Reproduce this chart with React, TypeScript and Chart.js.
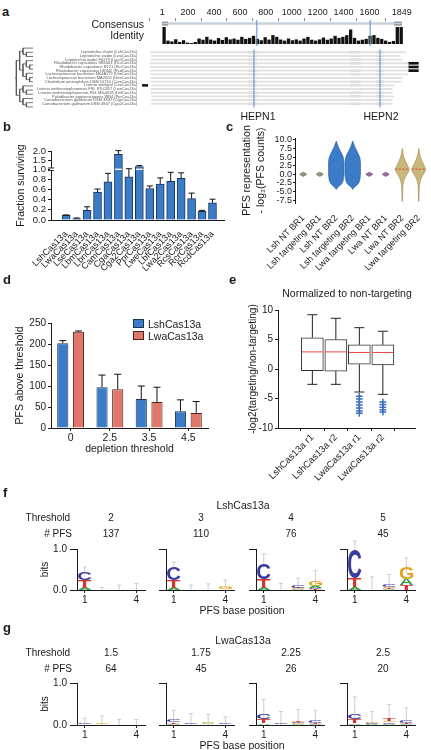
import React, { useEffect, useRef } from 'react';
import { Chart, registerables } from 'chart.js';

Chart.register(...registerables);

const FONT = '"Liberation Sans", Arial, Helvetica, sans-serif';
Chart.defaults.font.family = FONT;
Chart.defaults.font.size = 9.5;
Chart.defaults.color = '#1a1a1a';

const INK = '#1a1a1a';
const BLUE = '#3b7cc8';
const BLUE_EDGE = '#1e3553';
const SALMON = '#e0776a';
const SALMON_EDGE = '#4d231d';

/* ===================== DATA ===================== */
// panel a
const positionTicks = [1, 200, 400, 600, 800, 1000, 1200, 1400, 1600, 1849];
const identityBinSize = 30;
const identity = [
  1.0, 0.2, 0.15, 0.28, 0.12, 0.22, 0.08, 0.06, 0.12, 0.32,
  0.25, 0.42, 0.26, 0.2, 0.35, 0.24, 0.4, 0.27, 0.32, 0.25,
  0.42, 0.3, 0.36, 0.48, 0.3, 0.22, 0.4, 0.26, 0.52, 0.42,
  0.26, 0.2, 0.32, 0.22, 0.27, 0.2, 0.32, 0.42, 0.25, 0.2,
  0.27, 0.38, 0.25, 0.32, 0.48, 0.36, 0.42, 0.52, 0.85, 0.36,
  0.2, 0.25, 0.3, 0.48, 0.52, 0.36, 0.3, 0.2, 0.12, 0.18,
  1.0, 1.0,
];
const consensusLength = 1849;
const consensusEndsLeft = [1, 45];
const consensusEndsRight = [1790, 1849];
const hepnNames = ['HEPN1', 'HEPN2'];
const hepnPositions = [730, 1606];
const speciesNames = [
  'Leptotrichia shahii (LshCas13a)',
  'Leptotrichia wadei (LwaCas13a)',
  'Leptotrichia wadei F0279 (Lwa2Cas13a)',
  'Rhodobacter capsulatus SB1003 (RcsCas13a)',
  'Rhodobacter capsulatus R121 (RcrCas13a)',
  'Rhodobacter capsulatus DE442 (RcdCas13a)',
  'Lachnospiraceae bacterium NK4A179 (LbnCas13a)',
  'Lachnospiraceae bacterium MA2020 (LbmCas13a)',
  'Clostridium aminophilum DSM 10710 (CamCas13a)',
  'Listeria seeligeri (LseCas13a)',
  'Listeria weihenstephanensis FSL R9-0317 (LweCas13a)',
  'Listeria weihenstephanensis FSL M6-0635 (LbfCas13a)',
  'Paludibacter propionicigenes WB4 (PprCas13a)',
  'Carnobacterium gallinarum DSM 4847 (CgaCas13a)',
  'Carnobacterium gallinarum DSM 4847 (Cga2Cas13a)',
];
const alignStart = [12, 15, 15, 10, 10, 10, 12, 15, 15, 20, 15, 15, 20, 15, 15];
const alignEnd = [1785, 1745, 1760, 1800, 1800, 1800, 1800, 1760, 1755, 1700, 1690, 1690, 1700, 1690, 1690];
const conservedBlocks = [[690, 750], [1400, 1470], [1580, 1630]];
const cTermExtRows = [3, 4, 5];
const cTermExt = [1805, 1872];
const nTermExtRows = [9];
const nTermExt = [-45, -8];
type TreeNode = number | TreeNode[];
const treeTopology: TreeNode = [[[0, [1, 2]], [[3, [4, 5]], [6, [7, 8]]]], [[9, [10, 11]], [12, [13, 14]]]];

// panel b
const survivalLabels = ['LshCas13a', 'LwaCas13a', 'LseCas13a', 'LbmCas13a', 'LbnCas13a', 'CamCas13a', 'CgaCas13a', 'Cga2Cas13a', 'PprCas13a', 'LweCas13a', 'LbfCas13a', 'Lwa2Cas13a', 'RcsCas13a', 'RcrCas13a', 'RcdCas13a'];
const survivalMean = [0.09, 0.03, 0.19, 0.55, 0.75, 1.82, 0.85, 1.15, 0.62, 0.71, 0.76, 0.82, 0.42, 0.17, 0.34];
const survivalErr = [0.01, 0.01, 0.07, 0.06, 0.17, 0.2, 0.18, 0.05, 0.05, 0.12, 0.18, 0.11, 0.11, 0.02, 0.07];
const survivalTicks = [0, 0.2, 0.4, 0.6, 0.8, 1.0, 1.5, 2.0];
const axisBreak = 1.0;
const aboveBreakScale = 0.36;

// panel c
const pfsLabels = ['Lsh NT BR1', 'Lsh targeting BR1', 'Lsh NT BR2', 'Lsh targeting BR2', 'Lwa targeting BR1', 'Lwa NT BR1', 'Lwa NT BR2', 'Lwa targeting BR2'];
const pfsTicks = [-7.5, -5, -2.5, 0, 2.5, 5, 7.5, 10];
const violinColors = ['#8e9a82', '#8e9a82', '#3b7cc8', '#3b7cc8', '#9b6fa5', '#9b6fa5', '#c9b77c', '#c9b77c'];
const violinEdges = ['#5d6a52', '#5d6a52', '#2a5a94', '#2a5a94', '#6e4a78', '#6e4a78', '#9c8a52', '#9c8a52'];
const violinProfile = [0, 0, 1, 1, 0, 0, 2, 2];
const narrowLevels = [-0.6, -0.3, 0, 0.3, 0.6];
const narrowWidths = [0, 0.13, 0.21, 0.13, 0];
const lshBR2Levels = [-4.4, -4, -3.5, -3, -2.5, -2, -1, 0, 1, 2, 3, 4, 5, 6, 7, 8, 9, 9.6];
const lshBR2Widths = [0, 0.05, 0.15, 0.28, 0.36, 0.41, 0.45, 0.47, 0.47, 0.47, 0.47, 0.46, 0.42, 0.33, 0.22, 0.12, 0.05, 0];
const lwaBR2Levels = [-7.8, -6, -4, -3, -2, -1, 0, 0.5, 1, 1.5, 2, 3, 4, 5, 6, 7, 7.5];
const lwaBR2Widths = [0.015, 0.02, 0.03, 0.05, 0.09, 0.17, 0.28, 0.35, 0.4, 0.42, 0.38, 0.28, 0.18, 0.1, 0.05, 0.02, 0];
const violinMedians = [null, null, null, null, null, null, 1.5, 1.5];

// panel d
const depletionThresholds = ['0', '2.5', '3.5', '4.5'];
const lshPfs = [202, 97, 69, 40];
const lshPfsErr = [6, 29, 31, 27];
const lwaPfs = [229, 92, 62, 36];
const lwaPfsErr = [2, 36, 35, 27];
const pfsCountTicks = [0, 50, 100, 150, 200, 250];

// panel e
const boxLabels = ['LshCas13a r1', 'LshCas13a r2', 'LwaCas13a r1', 'LwaCas13a r2'];
const boxMin = [-2.6, -2.6, -3.9, -4.3];
const boxQ1 = [-0.3, -0.35, 0.8, 0.7];
const boxMedian = [2.9, 2.9, 2.8, 2.8];
const boxQ3 = [5.3, 5.0, 4.1, 4.1];
const boxMax = [9.2, 8.6, 7.0, 6.4];
const lwaR1Outliers = [-4.6, -5.1, -5.6, -6.1, -6.6, -7.1, -7.5];
const lwaR2Outliers = [-5.6, -6.0, -6.5, -6.9, -7.3];
const boxOutliers = [[], [], lwaR1Outliers, lwaR2Outliers];
const ratioTicks = [-10, -5, 0, 5, 10];

// panels f, g (sequence logos: information per base, bits)
const logoTickPositions = [1, 4];
const lshThresholds = ['2', '3', '4', '5'];
const lshPfsCounts = ['137', '110', '76', '45'];
const lshA = [[0.05, 0.005, 0.005, 0.005], [0.05, 0.005, 0.01, 0.01], [0.05, 0.01, 0.02, 0.05], [0.07, 0.01, 0.02, 0.15]];
const lshC = [[0.2, 0.005, 0.005, 0.005], [0.32, 0.005, 0.01, 0.01], [0.39, 0.01, 0.05, 0.03], [0.7, 0.01, 0.06, 0.01]];
const lshG = [[0, 0.005, 0.005, 0.005], [0, 0.005, 0.01, 0.05], [0, 0.01, 0.02, 0.12], [0, 0.01, 0.03, 0.28]];
const lshT = [[0.19, 0.005, 0.005, 0.005], [0.18, 0.005, 0.01, 0.01], [0.22, 0.01, 0.02, 0.02], [0.21, 0.01, 0.02, 0.11]];
const lshErr = [[0.12, 0.04, 0.1, 0.14], [0.13, 0.1, 0.11, 0.16], [0.22, 0.12, 0.18, 0.25], [0.22, 0.28, 0.25, 0.23]];
const lwaThresholds = ['1.5', '1.75', '2.25', '2.5'];
const lwaPfsCounts = ['64', '45', '26', '20'];
const lwaA = [[0.01, 0.01, 0.01, 0.01], [0.02, 0.01, 0.02, 0.01], [0.04, 0.01, 0.02, 0.02], [0.04, 0.02, 0.03, 0.02]];
const lwaC = [[0.02, 0.01, 0.005, 0.005], [0.06, 0.02, 0.01, 0.02], [0.12, 0.02, 0.03, 0.05], [0.12, 0.02, 0.03, 0.06]];
const lwaG = [[0.005, 0.03, 0.005, 0.005], [0.01, 0.01, 0.03, 0.01], [0.01, 0.01, 0.02, 0.01], [0.01, 0.02, 0.03, 0.01]];
const lwaT = [[0.01, 0.005, 0.01, 0.01], [0.04, 0.01, 0.01, 0.01], [0.08, 0.01, 0.04, 0.02], [0.08, 0.01, 0.06, 0.02]];
const lwaErr = [[0.12, 0.16, 0.1, 0.1], [0.22, 0.22, 0.18, 0.14], [0.36, 0.27, 0.26, 0.25], [0.42, 0.25, 0.34, 0.3]];
const letterColors: Record<string, string> = { A: '#2f9e49', C: '#3b3c9f', G: '#e4a31b', T: '#d7352b' };

/* ===================== HELPERS ===================== */
const fixW = (w: number) => (s: any) => { s.width = w; };
const fixH = (h: number) => (s: any) => { s.height = h; };
const setTicks = (vals: number[]) => (s: any) => { s.ticks = vals.map((v) => ({ value: v })); };
const brk = (v: number) => (v <= axisBreak ? v : axisBreak + (v - axisBreak) * aboveBreakScale);
const unbrk = (t: number) => (t <= axisBreak ? t : axisBreak + (t - axisBreak) / aboveBreakScale);

const baseOpts = (extra: any) => ({
  responsive: false,
  animation: false,
  devicePixelRatio: 1,
  events: [],
  ...extra,
  plugins: { legend: { display: false }, tooltip: { enabled: false }, ...(extra.plugins || {}) },
});

function seg(ctx: CanvasRenderingContext2D, x0: number, y0: number, x1: number, y1: number) {
  ctx.beginPath();
  ctx.moveTo(x0, y0);
  ctx.lineTo(x1, y1);
  ctx.stroke();
}

function ChartCanvas(props: { left: number; top: number; width: number; height: number; config: () => any }) {
  const { left, top, width, height, config } = props;
  const ref = useRef<HTMLCanvasElement | null>(null);
  useEffect(() => {
    const el = ref.current;
    if (!el) return;
    const chart = new Chart(el, config());
    return () => chart.destroy();
  }, []);
  return <canvas ref={ref} width={width} height={height} style={{ position: 'absolute', left, top, width, height, display: 'block' }} />;
}

function Txt(props: { x: number; y: number; size?: number; align?: 'left' | 'center' | 'right'; bold?: boolean; children: any }) {
  const { x, y, size = 10, align = 'center', bold = false, children } = props;
  const tx = align === 'center' ? '-50%' : align === 'right' ? '-100%' : '0';
  return (
    <div style={{ position: 'absolute', left: x, top: y, transform: `translate(${tx},-50%)`, fontSize: size, fontWeight: bold ? 700 : 400, fontFamily: FONT, color: INK, whiteSpace: 'nowrap', lineHeight: 1 }}>
      {children}
    </div>
  );
}

/* ===================== PANEL A ===================== */
const hepnLinesPlugin = (extendBottom: number) => ({
  id: 'hepn',
  afterDatasetsDraw(chart: any) {
    const { ctx, chartArea, scales } = chart;
    ctx.save();
    ctx.strokeStyle = 'rgba(110,150,205,0.75)';
    ctx.lineWidth = 1.6;
    hepnPositions.forEach((p) => {
      const x = scales.x.getPixelForValue(p);
      seg(ctx, x, chartArea.top - 1, x, chartArea.bottom + extendBottom);
    });
    ctx.restore();
  },
});

const consensusConfig = () => ({
  type: 'bar',
  data: {
    datasets: [
      { type: 'line', data: [{ x: 1, y: 1.2 }, { x: consensusLength, y: 1.2 }], borderColor: '#c9d2dc', borderWidth: 2.5, pointRadius: 0 },
      { type: 'line', data: consensusEndsLeft.map((p) => ({ x: p, y: 1.2 })), borderColor: '#111', borderWidth: 3.5, pointRadius: 0 },
      { type: 'line', data: consensusEndsRight.map((p) => ({ x: p, y: 1.2 })), borderColor: '#111', borderWidth: 3.5, pointRadius: 0 },
      { type: 'bar', data: identity.map((v, i) => ({ x: i * identityBinSize + identityBinSize / 2, y: v })), backgroundColor: '#111', barPercentage: 0.85, categoryPercentage: 1 },
    ],
  },
  options: baseOpts({
    layout: { padding: { top: 0, right: 16, left: 0, bottom: 2 } },
    scales: {
      x: {
        type: 'linear', position: 'top', min: 1, max: consensusLength,
        afterBuildTicks: setTicks(positionTicks), afterFit: fixH(21),
        ticks: { callback: (v: number) => String(v), font: { size: 9 }, padding: 0, maxRotation: 0, autoSkip: false },
        grid: { drawOnChartArea: false, tickLength: 3, color: '#888' },
        border: { display: false },
      },
      y: {
        min: 0, max: 1.35, afterFit: fixW(149),
        ticks: { display: false }, grid: { display: false }, border: { display: false },
      },
    },
  }),
  plugins: [hepnLinesPlugin(3)],
});

const alignmentConfig = () => {
  const rowOrNull = (rows: number[], range: number[]) => speciesNames.map((_, i) => (rows.includes(i) ? range : null));
  return {
    type: 'bar',
    data: {
      labels: speciesNames,
      datasets: [
        { data: alignStart.map((s, i) => [s, alignEnd[i]]), backgroundColor: '#e1e1e1', barThickness: 1.2 },
        ...conservedBlocks.map((b) => ({ data: speciesNames.map((_, i) => [Math.max(b[0], alignStart[i]), Math.min(b[1], alignEnd[i])]), backgroundColor: '#b9b9b9', barThickness: 1.2 })),
        { data: rowOrNull(cTermExtRows, cTermExt), backgroundColor: '#111', barThickness: 2, clip: false },
        { data: rowOrNull(nTermExtRows, nTermExt), backgroundColor: '#111', barThickness: 1.8, clip: false },
      ],
    },
    options: baseOpts({
      indexAxis: 'y',
      datasets: { bar: { grouped: false } },
      layout: { padding: { top: 2, right: 16, left: 0, bottom: 3 } },
      scales: {
        x: { type: 'linear', min: 1, max: consensusLength, display: false },
        y: {
          afterFit: fixW(149),
          ticks: { font: { size: 4 }, color: '#555', padding: 4, autoSkip: false },
          grid: { display: false }, border: { display: false },
        },
      },
    }),
    plugins: [hepnLinesPlugin(2)],
  };
};

const treeConfig = () => {
  const segs: { x: number; y: number }[][] = [];
  let leafDepth = 0;
  const depthOf = (n: TreeNode, d: number): void => {
    if (typeof n === 'number') leafDepth = Math.max(leafDepth, d);
    else n.forEach((c) => depthOf(c, d + 1));
  };
  depthOf(treeTopology, 0);
  const walk = (n: TreeNode, d: number): { x: number; y: number } => {
    if (typeof n === 'number') return { x: leafDepth, y: n };
    const kids = n.map((c) => walk(c, d + 1));
    const ys = kids.map((k) => k.y);
    const lo = Math.min(...ys);
    const hi = Math.max(...ys);
    segs.push([{ x: d, y: lo }, { x: d, y: hi }]);
    kids.forEach((k) => segs.push([{ x: d, y: k.y }, { x: k.x, y: k.y }]));
    return { x: d, y: (lo + hi) / 2 };
  };
  const root = walk(treeTopology, 0);
  segs.push([{ x: -0.4, y: root.y }, { x: 0, y: root.y }]);
  return {
    type: 'line',
    data: { datasets: segs.map((s) => ({ data: s, borderColor: '#555', borderWidth: 0.8, pointRadius: 0 })) },
    options: baseOpts({
      layout: { padding: { top: 2, right: 5, left: 5, bottom: 3 } },
      scales: {
        x: { type: 'linear', min: -0.4, max: leafDepth, display: false },
        y: { type: 'linear', min: -0.5, max: speciesNames.length - 0.5, reverse: true, display: false },
      },
    }),
  };
};

/* ===================== PANEL B ===================== */
const survivalPlugin = {
  id: 'survivalExtras',
  afterDatasetsDraw(chart: any) {
    const { ctx, scales: { x, y } } = chart;
    ctx.save();
    ctx.strokeStyle = '#111';
    ctx.lineWidth = 1;
    survivalMean.forEach((m, i) => {
      const px = x.getPixelForValue(i);
      const y0 = y.getPixelForValue(brk(m));
      const y1 = y.getPixelForValue(brk(m + survivalErr[i]));
      seg(ctx, px, y0, px, y1);
      seg(ctx, px - 3, y1, px + 3, y1);
    });
    const yb = y.getPixelForValue(axisBreak);
    ctx.strokeStyle = '#fff';
    ctx.lineWidth = 1.3;
    survivalMean.forEach((m, i) => {
      if (m > axisBreak) {
        const px = x.getPixelForValue(i);
        seg(ctx, px - 3.5, yb, px + 3.5, yb);
      }
    });
    const ax = x.left;
    ctx.fillStyle = '#fff';
    ctx.fillRect(ax - 1, yb - 1, 2, 2);
    ctx.strokeStyle = '#111';
    ctx.lineWidth = 0.9;
    seg(ctx, ax - 3, yb - 1.3, ax + 3, yb - 1.3);
    seg(ctx, ax - 3, yb + 1.3, ax + 3, yb + 1.3);
    ctx.restore();
  },
};

const survivalConfig = () => ({
  type: 'bar',
  data: {
    datasets: [{
      data: survivalMean.map((v, i) => ({ x: i, y: brk(v) })),
      backgroundColor: BLUE, borderColor: BLUE_EDGE, borderWidth: 1, barThickness: 8,
    }],
  },
  options: baseOpts({
    layout: { padding: { top: 29, right: 2, left: 0, bottom: 0 } },
    scales: {
      x: {
        type: 'linear', min: -0.9, max: 14.55,
        afterBuildTicks: setTicks(survivalLabels.map((_, i) => i)), afterFit: fixH(57),
        ticks: { callback: (v: number) => survivalLabels[v] ?? '', minRotation: 45, maxRotation: 45, autoSkip: false, font: { size: 9 }, padding: 1 },
        grid: { display: false }, border: { color: INK },
      },
      y: {
        min: 0, max: brk(2.0),
        afterBuildTicks: setTicks(survivalTicks.map(brk)), afterFit: fixW(51),
        ticks: { callback: (v: number) => unbrk(v).toFixed(1), font: { size: 9.5, lineHeight: 0.9 }, padding: 2, autoSkip: false },
        grid: { drawOnChartArea: false, tickLength: 3, color: INK }, border: { color: INK },
        title: { display: true, text: 'Fraction surviving', font: { size: 10.5 }, padding: { top: 15, bottom: 0 } },
      },
    },
  }),
  plugins: [survivalPlugin],
});

/* ===================== PANEL C ===================== */
const violinPlugin = {
  id: 'violins',
  afterDatasetsDraw(chart: any) {
    const { ctx, scales: { x, y } } = chart;
    const cat = x.getPixelForValue(1) - x.getPixelForValue(0);
    const profiles = [
      [narrowLevels, narrowWidths],
      [lshBR2Levels, lshBR2Widths],
      [lwaBR2Levels, lwaBR2Widths],
    ];
    ctx.save();
    pfsLabels.forEach((_, i) => {
      const [lv, wd] = profiles[violinProfile[i]];
      const cx = x.getPixelForValue(i);
      ctx.beginPath();
      lv.forEach((l, k) => {
        const px = cx + wd[k] * cat;
        const py = y.getPixelForValue(l);
        if (k === 0) ctx.moveTo(px, py); else ctx.lineTo(px, py);
      });
      for (let k = lv.length - 1; k >= 0; k--) ctx.lineTo(cx - wd[k] * cat, y.getPixelForValue(lv[k]));
      ctx.closePath();
      ctx.fillStyle = violinColors[i];
      ctx.fill();
      ctx.strokeStyle = violinEdges[i];
      ctx.lineWidth = 0.6;
      ctx.stroke();
      const med = violinMedians[i];
      if (med !== null) {
        const my = y.getPixelForValue(med);
        ctx.strokeStyle = '#e0463a';
        ctx.lineWidth = 1;
        ctx.setLineDash([2, 1.5]);
        seg(ctx, cx - 0.42 * cat, my, cx + 0.42 * cat, my);
        ctx.setLineDash([]);
      }
    });
    ctx.restore();
  },
};

const violinConfig = () => ({
  type: 'line',
  data: { labels: pfsLabels, datasets: [] },
  options: baseOpts({
    layout: { padding: { top: 16, right: 4, left: 0, bottom: 0 } },
    scales: {
      x: {
        type: 'category', offset: true, afterFit: fixH(69),
        ticks: { minRotation: 45, maxRotation: 45, autoSkip: false, font: { size: 9 }, padding: 2 },
        grid: { display: false }, border: { display: false },
      },
      y: {
        min: -8.3, max: 10.5,
        afterBuildTicks: setTicks(pfsTicks), afterFit: fixW(80),
        ticks: { callback: (v: number) => v.toFixed(1), font: { size: 9, lineHeight: 0.85 }, padding: 1, autoSkip: false },
        grid: { drawOnChartArea: false, tickLength: 2, color: INK }, border: { color: INK },
        title: { display: true, text: ['PFS representation', '- log\u2082(PFS counts)'], font: { size: 10.5, lineHeight: 1.35 }, padding: { top: 25, bottom: 0 } },
      },
    },
  }),
  plugins: [violinPlugin],
});

/* ===================== PANEL D ===================== */
const groupedErrPlugin = {
  id: 'groupedErr',
  afterDatasetsDraw(chart: any) {
    const { ctx, scales: { y } } = chart;
    const errs = [lshPfsErr, lwaPfsErr];
    const vals = [lshPfs, lwaPfs];
    ctx.save();
    ctx.strokeStyle = '#111';
    ctx.lineWidth = 1;
    [0, 1].forEach((d) => {
      const meta = chart.getDatasetMeta(d);
      meta.data.forEach((el: any, i: number) => {
        const y0 = y.getPixelForValue(vals[d][i]);
        const y1 = y.getPixelForValue(vals[d][i] + errs[d][i]);
        seg(ctx, el.x, y0, el.x, y1);
        seg(ctx, el.x - 3.5, y1, el.x + 3.5, y1);
      });
    });
    ctx.restore();
  },
};

const depletionConfig = () => ({
  type: 'bar',
  data: {
    labels: depletionThresholds,
    datasets: [
      { label: 'LshCas13a', data: lshPfs, backgroundColor: BLUE, borderColor: BLUE_EDGE, borderWidth: 1 },
      { label: 'LwaCas13a', data: lwaPfs, backgroundColor: SALMON, borderColor: SALMON_EDGE, borderWidth: 1 },
    ],
  },
  options: baseOpts({
    datasets: { bar: { categoryPercentage: 0.8, barPercentage: 0.71 } },
    layout: { padding: { top: 38, right: 7, left: 0, bottom: 0 } },
    scales: {
      x: {
        afterFit: fixH(32),
        ticks: { font: { size: 10.5 }, padding: 1 },
        grid: { drawOnChartArea: false, tickLength: 3, color: INK, offset: false }, border: { color: INK },
        title: { display: true, text: 'depletion threshold', font: { size: 10.5 }, padding: { top: 0, bottom: 5 } },
      },
      y: {
        min: 0, max: 250,
        afterBuildTicks: setTicks(pfsCountTicks), afterFit: fixW(51),
        ticks: { font: { size: 10 }, padding: 2, autoSkip: false },
        grid: { drawOnChartArea: false, tickLength: 3, color: INK }, border: { color: INK },
        title: { display: true, text: 'PFS above threshold', font: { size: 10.5 }, padding: { top: 14, bottom: 0 } },
      },
    },
  }),
  plugins: [groupedErrPlugin],
});

/* ===================== PANEL E ===================== */
const boxPlugin = {
  id: 'boxes',
  afterDatasetsDraw(chart: any) {
    const { ctx, scales: { x, y } } = chart;
    ctx.save();
    boxLabels.forEach((_, i) => {
      const cx = x.getPixelForValue(i);
      ctx.strokeStyle = '#222';
      ctx.lineWidth = 1;
      seg(ctx, cx, y.getPixelForValue(boxQ3[i]), cx, y.getPixelForValue(boxMax[i]));
      seg(ctx, cx, y.getPixelForValue(boxQ1[i]), cx, y.getPixelForValue(boxMin[i]));
      seg(ctx, cx - 5, y.getPixelForValue(boxMax[i]), cx + 5, y.getPixelForValue(boxMax[i]));
      seg(ctx, cx - 5, y.getPixelForValue(boxMin[i]), cx + 5, y.getPixelForValue(boxMin[i]));
      ctx.strokeStyle = '#ee4b45';
      const my = y.getPixelForValue(boxMedian[i]);
      seg(ctx, cx - 10.5, my, cx + 10.5, my);
    });
    ctx.restore();
  },
};

const boxConfig = () => ({
  type: 'bar',
  data: {
    datasets: [
      {
        data: boxQ1.map((q, i) => ({ x: i, y: [q, boxQ3[i]] })),
        backgroundColor: '#fff', borderColor: '#333', borderWidth: 1, borderSkipped: false, barThickness: 22,
      },
      {
        type: 'scatter',
        data: boxOutliers.flatMap((arr, i) => arr.map((v) => ({ x: i, y: v }))),
        pointStyle: 'cross', pointRadius: 3.4, borderColor: '#3d6fc2', borderWidth: 1.5, backgroundColor: '#3d6fc2',
      },
    ],
  },
  options: baseOpts({
    layout: { padding: { top: 28, right: 16, left: 0, bottom: 0 } },
    scales: {
      x: {
        type: 'linear', min: -0.734, max: 3.64,
        afterBuildTicks: setTicks(boxLabels.map((_, i) => i)), afterFit: fixH(64),
        ticks: { callback: (v: number) => boxLabels[v] ?? '', minRotation: 45, maxRotation: 45, autoSkip: false, font: { size: 9.5 }, padding: 1 },
        grid: { drawOnChartArea: false, tickLength: 3, color: INK }, border: { color: INK },
      },
      y: {
        min: -10, max: 10,
        afterBuildTicks: setTicks(ratioTicks), afterFit: fixW(63),
        ticks: { font: { size: 10 }, padding: 2, autoSkip: false },
        grid: { drawOnChartArea: false, tickLength: 3, color: INK }, border: { color: INK },
        title: { display: true, text: '-log2(targeting/non-targeting)', font: { size: 10 }, padding: { top: 32, bottom: 0 } },
      },
    },
  }),
  plugins: [boxPlugin],
});

/* ===================== PANELS F, G ===================== */
function drawGlyph(ctx: CanvasRenderingContext2D, ch: string, x: number, yTop: number, w: number, h: number, color: string) {
  ctx.save();
  ctx.font = `bold 100px ${FONT}`;
  ctx.textAlign = 'left';
  ctx.textBaseline = 'alphabetic';
  const m = ctx.measureText(ch);
  const gw = m.actualBoundingBoxLeft + m.actualBoundingBoxRight;
  const gh = m.actualBoundingBoxAscent + m.actualBoundingBoxDescent;
  ctx.translate(x, yTop);
  ctx.scale(w / gw, h / gh);
  ctx.fillStyle = color;
  ctx.fillText(ch, m.actualBoundingBoxLeft, m.actualBoundingBoxAscent);
  ctx.restore();
}

const logoPlugin = (A: number[], C: number[], G: number[], T: number[], err: number[]) => {
  const stackTop = (p: number) => A[p] + C[p] + G[p] + T[p];
  return {
    id: 'logo',
    beforeDatasetsDraw(chart: any) {
      const { ctx, scales: { x, y } } = chart;
      ctx.save();
      ctx.strokeStyle = '#c2c2c2';
      ctx.lineWidth = 0.8;
      for (let p = 0; p < 4; p++) {
        const cx = x.getPixelForValue(p + 1);
        const top = stackTop(p);
        const yHi = y.getPixelForValue(top + err[p]);
        const yLo = y.getPixelForValue(Math.max(0, top - err[p] * 0.6));
        seg(ctx, cx, yLo, cx, yHi);
        seg(ctx, cx - 2, yHi, cx + 2, yHi);
      }
      ctx.restore();
    },
    afterDatasetsDraw(chart: any) {
      const { ctx, scales: { x, y } } = chart;
      for (let p = 0; p < 4; p++) {
        const entries: [string, number][] = [['A', A[p]], ['C', C[p]], ['G', G[p]], ['T', T[p]]];
        entries.sort((a, b) => a[1] - b[1]);
        const x0 = x.getPixelForValue(p + 1 - 0.39);
        const x1 = x.getPixelForValue(p + 1 + 0.39);
        let base = 0;
        entries.forEach(([l, h]) => {
          const yb = y.getPixelForValue(base);
          const yt = y.getPixelForValue(base + h);
          base += h;
          if (yb - yt < 0.35) return;
          drawGlyph(ctx, l, x0, yt, x1 - x0, yb - yt, letterColors[l]);
        });
      }
    },
  };
};

const logoConfig = (A: number[], C: number[], G: number[], T: number[], err: number[], first: boolean) => () => ({
  type: 'scatter',
  data: { datasets: [] },
  options: baseOpts({
    layout: { padding: { top: 10, right: 2, left: 0, bottom: 0 } },
    scales: {
      x: {
        type: 'linear', min: 0.55, max: 4.5,
        afterBuildTicks: setTicks(logoTickPositions), afterFit: fixH(18),
        ticks: { font: { size: 10 }, padding: 1, maxRotation: 0, autoSkip: false },
        grid: { drawOnChartArea: false, tickLength: 3, color: INK }, border: { color: INK },
      },
      y: {
        min: 0, max: 1,
        afterBuildTicks: setTicks([0, 1]), afterFit: fixW(47),
        ticks: { callback: (v: number) => (first ? v.toFixed(1) : ''), font: { size: 10 }, padding: 3, autoSkip: false },
        grid: { drawOnChartArea: false, tickLength: 7, color: INK }, border: { color: INK },
        title: { display: first, text: 'bits', font: { size: 10 }, padding: { top: 9, bottom: 0 } },
      },
    },
  }),
  plugins: [logoPlugin(A, C, G, T, err)],
});

const logoAxisX = [77, 166, 256, 347];
const logoHeaderX = [111, 201, 291, 383];

function LogoRow(props: { name: string; thresholds: string[]; counts: string[]; A: number[][]; C: number[][]; G: number[][]; T: number[][]; err: number[][]; nameY: number; topY: number; plotH: number }) {
  const { name, thresholds, counts, A, C, G, T, err, nameY, topY, plotH } = props;
  return (
    <>
      <Txt x={243} y={nameY} size={10.5}>{name}</Txt>
      <Txt x={70} y={nameY + 13} size={10} align="right">Threshold</Txt>
      <Txt x={72} y={nameY + 29} size={10} align="right"># PFS</Txt>
      {thresholds.map((t, i) => <Txt key={'t' + i} x={logoHeaderX[i]} y={nameY + 13} size={10}>{t}</Txt>)}
      {counts.map((c, i) => <Txt key={'c' + i} x={logoHeaderX[i]} y={nameY + 29} size={10}>{c}</Txt>)}
      {logoAxisX.map((ax, i) => (
        <ChartCanvas key={'l' + i} left={ax - 47} top={topY - 10} width={117} height={10 + plotH + 18}
          config={logoConfig(A[i], C[i], G[i], T[i], err[i], i === 0)} />
      ))}
      <Txt x={242} y={topY + plotH + 20} size={10.5}>PFS base position</Txt>
    </>
  );
}

/* ===================== APP ===================== */
export default function App() {
  useEffect(() => {
    document.body.style.margin = '0';
  }, []);
  return (
    <div style={{ position: 'fixed', left: 0, top: 0, width: 431, height: 750, background: '#fff', overflow: 'hidden', fontFamily: FONT }}>
      {/* panel a */}
      <Txt x={2} y={11} size={13} bold align="left">a</Txt>
      <ChartCanvas left={0} top={0} width={431} height={46} config={consensusConfig} />
      <Txt x={144} y={24} size={10.5} align="right">Consensus</Txt>
      <Txt x={144} y={35} size={10.5} align="right">Identity</Txt>
      <ChartCanvas left={0} top={44} width={431} height={68} config={alignmentConfig} />
      <ChartCanvas left={10} top={44} width={28} height={68} config={treeConfig} />
      <Txt x={258} y={116} size={10.5}>{hepnNames[0]}</Txt>
      <Txt x={381} y={116} size={10.5}>{hepnNames[1]}</Txt>

      {/* panel b */}
      <Txt x={3} y={126} size={13} bold align="left">b</Txt>
      <ChartCanvas left={0} top={122} width={226} height={155} config={survivalConfig} />

      {/* panel c */}
      <Txt x={226} y={126} size={13} bold align="left">c</Txt>
      <ChartCanvas left={215} top={122} width={216} height={150} config={violinConfig} />

      {/* panel d */}
      <Txt x={3} y={279} size={13} bold align="left">d</Txt>
      <ChartCanvas left={0} top={285} width={215} height={175} config={depletionConfig} />
      <div style={{ position: 'absolute', left: 133, top: 319, width: 11, height: 9, background: BLUE, border: `1px solid ${BLUE_EDGE}`, boxSizing: 'border-box' }} />
      <div style={{ position: 'absolute', left: 133, top: 331, width: 11, height: 9, background: SALMON, border: `1px solid ${SALMON_EDGE}`, boxSizing: 'border-box' }} />
      <Txt x={148} y={324} size={10.5} align="left">LshCas13a</Txt>
      <Txt x={148} y={336} size={10.5} align="left">LwaCas13a</Txt>

      {/* panel e */}
      <Txt x={229} y={279} size={13} bold align="left">e</Txt>
      <Txt x={347} y={293} size={10.5}>Normalized to non-targeting</Txt>
      <ChartCanvas left={215} top={282} width={216} height={210} config={boxConfig} />

      {/* panel f */}
      <Txt x={3} y={492} size={13} bold align="left">f</Txt>
      <LogoRow name="LshCas13a" thresholds={lshThresholds} counts={lshPfsCounts} A={lshA} C={lshC} G={lshG} T={lshT} err={lshErr} nameY={505} topY={549} plotH={41} />

      {/* panel g */}
      <Txt x={3} y={627} size={13} bold align="left">g</Txt>
      <LogoRow name="LwaCas13a" thresholds={lwaThresholds} counts={lwaPfsCounts} A={lwaA} C={lwaC} G={lwaG} T={lwaT} err={lwaErr} nameY={640} topY={683} plotH={42} />
    </div>
  );
}
